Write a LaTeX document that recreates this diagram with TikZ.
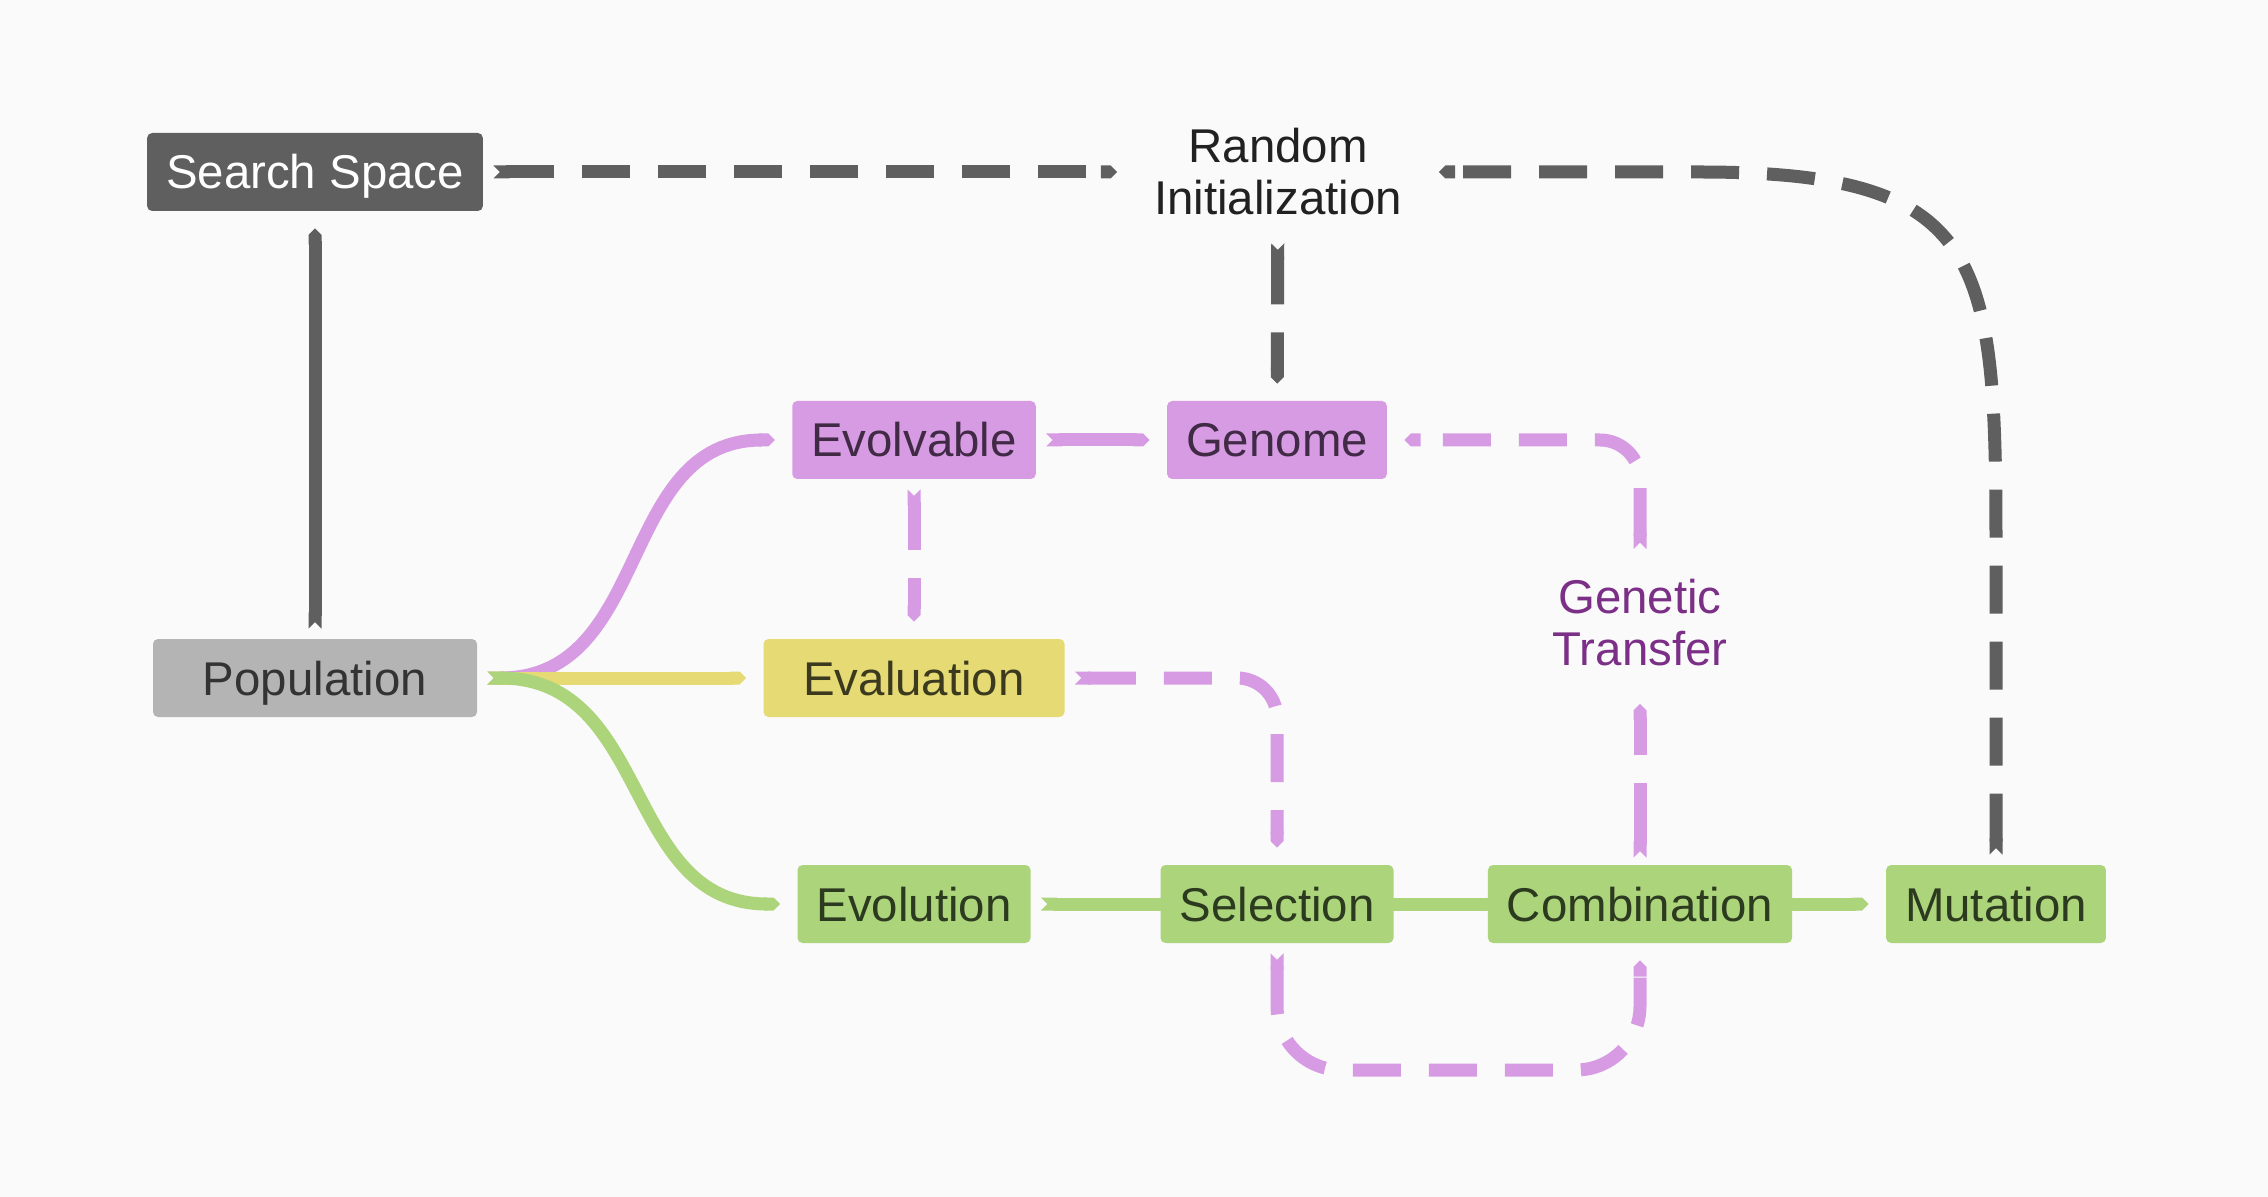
\documentclass[tikz,border=0pt]{standalone}
\usepackage{fontspec}
\setmainfont{Liberation Sans}
\usepackage{tikz}
\usetikzlibrary{arrows.meta, backgrounds, positioning}

\definecolor{darkgrey}{HTML}{5F5F5F}
\definecolor{popgrey}{HTML}{B4B4B4}
\definecolor{lilac}{HTML}{D69BE2}
\definecolor{lilactext}{HTML}{412A45}
\definecolor{straw}{HTML}{E6DA74}
\definecolor{strawtext}{HTML}{3C3A1E}
\definecolor{leaf}{HTML}{ACD47B}
\definecolor{leaftext}{HTML}{2C3A1F}
\definecolor{plum}{HTML}{7B2F86}
\definecolor{paper}{HTML}{FAFAFA}

\begin{document}
\begin{tikzpicture}[x=0.5pt,y=-0.5pt]
\tikzstyle{box}=[rectangle, rounded corners=2.5pt, minimum height=39pt, inner xsep=9.5pt, text height=17pt, text depth=0pt, font=\fontsize{23.7}{26}\selectfont]
\tikzstyle{note}=[align=center, font=\fontsize{23.7}{26}\selectfont]
\tikzstyle{link}=[line width=6.5pt, {Triangle Cap[reversed]}-{Triangle Cap}, shorten <=5pt, shorten >=8.5pt]
\tikzstyle{dashy}=[dash pattern=on 24pt off 14pt]
\node[box, fill=darkgrey, text=white] (space) at (315,172) {Search Space};
\node[note, text=black!87, minimum width=143.5pt, minimum height=61pt] (init) at (1278,172) {Random\\Initialization};
\node[box, fill=popgrey, text=black!80, minimum width=162pt] (pop) at (315,678) {Population};
\node[box, fill=lilac, text=lilactext] (evolv) at (914,440) {Evolvable};
\node[box, fill=lilac, text=lilactext] (genome) at (1277,440) {Genome};
\node[box, fill=straw, text=strawtext, minimum width=150.5pt] (eval) at (914,678) {Evaluation};
\node[note, text=plum, minimum height=63.5pt] (transfer) at (1640,623) {Genetic\\Transfer};
\node[box, fill=leaf, text=leaftext] (evol) at (914,904) {Evolution};
\node[box, fill=leaf, text=leaftext] (select) at (1277,904) {Selection};
\node[box, fill=leaf, text=leaftext] (comb) at (1640,904) {Combination};
\node[box, fill=leaf, text=leaftext] (mut) at (1996,904) {Mutation};
\coordinate (loop) at (1458,1070);

\begin{scope}[on background layer]
\fill[paper] (0,0) rectangle (2268,1197);
\draw[link, leaf] (evol) -- (mut);
\end{scope}

\draw[link, darkgrey, dashy] (space) -- (init);
\draw[link, darkgrey, dashy] (init) -- (genome);
\draw[link, darkgrey, dashy] (mut) -- (1996,560) .. controls (1996,260) and (1990,172) .. (1700,172) -- (init);
\draw[link, darkgrey] (pop) -- (space);
\draw[link, lilac] (pop.east) .. controls +(175,0) and +(-175,0) .. (evolv.west);
\draw[link, straw] (pop) -- (eval);
\draw[link, leaf] (pop.east) .. controls +(175,0) and +(-175,0) .. (evol.west);
\draw[link, lilac] (evolv) -- (genome);
\draw[link, lilac, dashy] (evolv) -- (eval);
\draw[link, lilac, dashy, rounded corners=20pt] (eval) -| (select);
\draw[link, lilac, dashy, rounded corners=20pt] (transfer) |- (genome);
\draw[link, lilac, dash pattern=on 31pt off 14pt, shorten <=3.5pt] (comb) -- (transfer);
\draw[link, lilac, dashy, rounded corners=32pt] (select) |- (loop) -| (comb);
\end{tikzpicture}
\end{document}
